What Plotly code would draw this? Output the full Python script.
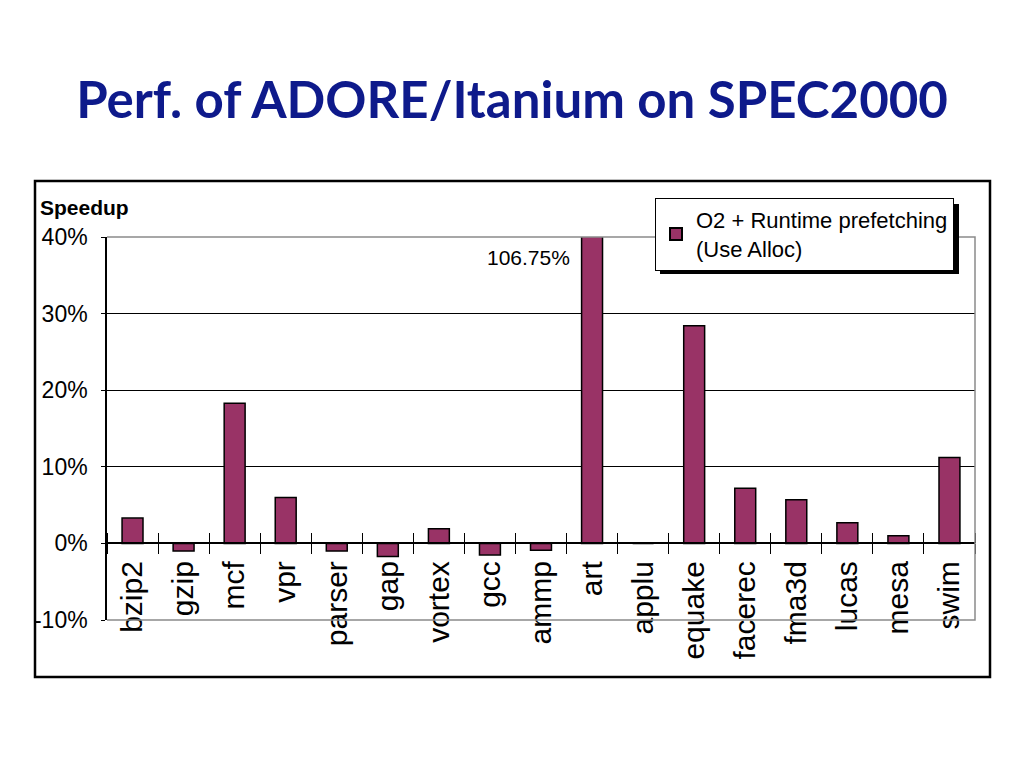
import plotly.graph_objects as go

categories = ['bzip2', 'gzip', 'mcf', 'vpr', 'parser', 'gap', 'vortex', 'gcc', 'ammp',
              'art', 'applu', 'equake', 'facerec', 'fma3d', 'lucas', 'mesa', 'swim']
speedup = [3.3, -1.0, 18.3, 6.0, -1.0, -1.7, 1.9, -1.5, -0.9,
           106.75, 0.0, 28.4, 7.2, 5.7, 2.7, 1.0, 11.2]
y_ticks = [-10, 0, 10, 20, 30, 40]
y_tick_labels = ['-10%', '0%', '10%', '20%', '30%', '40%']
series_name = 'O2 + Runtime prefetching<br>(Use Alloc)'
title_text = '<b>Perf. of ADORE/Itanium on SPEC2000</b>'
art_label = '106.75%'

BAR = '#993366'
FONT = 'Liberation Sans, Arial, sans-serif'

fig = go.Figure()
fig.add_trace(go.Bar(
    x=categories, y=speedup, name=series_name,
    marker=dict(color=BAR, line=dict(color='black', width=1.5)),
    hoverinfo='x+y'))
# invisible twin used only to draw upward tick marks on the zero line
fig.add_trace(go.Bar(
    x=categories, y=speedup, xaxis='x2', opacity=0, showlegend=False,
    hoverinfo='skip'))

fig.update_layout(
    width=1024, height=768,
    margin=dict(l=107, r=49, t=237, b=148),
    paper_bgcolor='white', plot_bgcolor='white',
    bargap=0.59,
    title=dict(text=title_text, x=0.5, xanchor='center', y=1 - 100 / 768,
               yanchor='middle', yref='container',
               font=dict(family='Lato, Open Sans, sans-serif', size=51, color='#0E1A8B')),
    xaxis=dict(type='category', range=[-0.5, 16.5], anchor='free', position=0.2,
               showline=True, linecolor='black', linewidth=1.5,
               ticks='outside', ticklen=10, tickwidth=1.2, tickcolor='black',
               tickson='boundaries', tickangle=-90, ticklabelstandoff=5,
               tickfont=dict(family=FONT, size=30, color='black'),
               showgrid=False, zeroline=False),
    xaxis2=dict(type='category', range=[-0.5, 16.5], overlaying='x', side='top',
                anchor='free', position=0.2, showline=False,
                ticks='outside', ticklen=10, tickwidth=1.2, tickcolor='black',
                tickson='boundaries', showticklabels=False, showgrid=False,
                zeroline=False),
    yaxis=dict(range=[-10, 40], tickvals=y_ticks, ticktext=y_tick_labels,
               showline=True, linecolor='black', linewidth=1.5,
               ticks='outside', ticklen=4, tickcolor='black', ticklabelstandoff=9,
               tickfont=dict(family=FONT, size=23, color='black'),
               showgrid=True, gridcolor='black', gridwidth=1, zeroline=False),
    legend=dict(x=(655 - 107) / 868, xanchor='left', y=(620 - 198) / 383, yanchor='top',
                bgcolor='white', bordercolor='black', borderwidth=1,
                font=dict(family=FONT, size=22, color='black'),
                itemsizing='constant'),
    showlegend=True,
)

# frame: gray top/right/bottom edges, outer black box, legend shadow
fig.add_shape(type='path', xref='paper', yref='paper', path='M0,1 L1,1 L1,0 L0,0',
              line=dict(color='#8a8a8a', width=1.5), layer='above')
fig.add_shape(type='rect', xref='paper', yref='paper',
              x0=(35 - 107) / 868, x1=(990 - 107) / 868,
              y0=(620 - 677) / 383, y1=(620 - 181) / 383,
              line=dict(color='black', width=2.5))
fig.add_shape(type='rect', xref='paper', yref='paper',
              x0=(660 - 107) / 868, x1=(959 - 107) / 868,
              y0=(620 - 274) / 383, y1=(620 - 204) / 383,
              fillcolor='black', line=dict(width=0), layer='above')

fig.add_annotation(x='art', y=37.3, xref='x', yref='y', text=art_label,
                   showarrow=False, xanchor='right', yanchor='middle', xshift=-20,
                   font=dict(family=FONT, size=21, color='black'))
fig.add_annotation(x=(38 - 107) / 868, y=(620 - 207) / 383, xref='paper', yref='paper',
                   text='<b>Speedup</b>', showarrow=False, xanchor='left', yanchor='middle',
                   font=dict(family=FONT, size=21, color='black'))

fig.write_html('out.html', config={'displayModeBar': False},
               post_script="document.body.style.margin='0px';")
